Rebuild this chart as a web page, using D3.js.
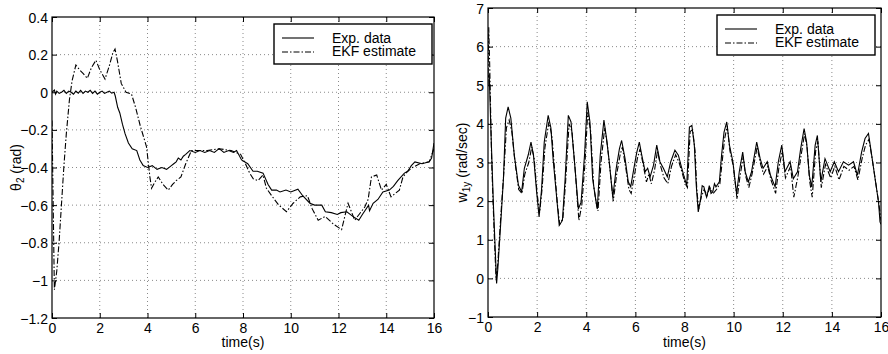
<!DOCTYPE html>
<html>
<head>
<meta charset="utf-8">
<script src="https://cdn.jsdelivr.net/npm/d3@7"></script>
<style>
  body { margin: 0; background: #fff; }
  svg { display: block; font-family: "Liberation Sans", Arial, Helvetica, sans-serif; }
  .tick text { font-size: 14px; fill: #000; }
  .tick line { stroke: #000; }
  .grid line { stroke: #8a8a8a; stroke-dasharray: 1,3; }
  .frame { fill: none; stroke: #000; stroke-width: 1.2; }
  .exp { fill: none; stroke: #000; stroke-width: 1.1; }
  .ekf { fill: none; stroke: #000; stroke-width: 1.1; stroke-dasharray: 6,2,1.5,2; }
  .lbl { font-size: 14px; fill: #000; }
</style>
</head>
<body>
<div id="chart"></div>
<script>
// time axis ticks (both panels)
const timeTicks = [0, 2, 4, 6, 8, 10, 12, 14, 16];

// left panel: theta_2 (rad)
const thetaTicks = [0.4, 0.2, 0, -0.2, -0.4, -0.6, -0.8, -1, -1.2];
const thetaExp = [
  [0,0.0],[0.1,0.012],[0.15,-0.01],[0.2,0.006],[0.3,-0.006],[0.4,0.0],[0.5,0.01],[0.6,-0.006],[0.7,0.006],
  [0.8,0.0],[0.9,-0.01],[1.0,0.006],[1.1,-0.005],[1.2,0.01],[1.3,-0.006],[1.4,0.006],[1.5,0.0],[1.6,0.01],
  [1.7,-0.006],[1.8,0.006],[1.9,-0.01],[2.0,0.0],[2.1,0.006],[2.2,-0.006],[2.3,0.0],[2.4,0.006],[2.5,-0.005],
  [2.6,0.0],[2.65,-0.02],[2.75,-0.08],[2.84,-0.11],[2.95,-0.17],[3.06,-0.22],[3.2,-0.27],[3.36,-0.30],
  [3.55,-0.31],[3.68,-0.36],[3.82,-0.39],[4.0,-0.40],[4.2,-0.39],[4.4,-0.41],[4.6,-0.40],[4.8,-0.41],
  [5.0,-0.39],[5.1,-0.38],[5.2,-0.37],[5.29,-0.35],[5.4,-0.36],[5.5,-0.34],[5.6,-0.33],[5.77,-0.31],
  [6.0,-0.32],[6.2,-0.31],[6.4,-0.32],[6.6,-0.31],[6.8,-0.32],[7.0,-0.30],[7.2,-0.32],[7.4,-0.31],
  [7.6,-0.32],[7.73,-0.31],[7.94,-0.36],[8.2,-0.38],[8.42,-0.42],[8.6,-0.42],[8.84,-0.43],[9.05,-0.49],
  [9.2,-0.52],[9.4,-0.52],[9.55,-0.53],[9.8,-0.52],[10.0,-0.53],[10.3,-0.515],[10.5,-0.55],[10.8,-0.59],
  [11.0,-0.60],[11.3,-0.60],[11.45,-0.635],[11.7,-0.64],[11.95,-0.65],[12.1,-0.64],[12.35,-0.635],
  [12.6,-0.66],[12.85,-0.68],[13.0,-0.65],[13.26,-0.60],[13.3,-0.63],[13.45,-0.59],[13.65,-0.57],
  [13.86,-0.53],[14.13,-0.52],[14.3,-0.50],[14.48,-0.47],[14.76,-0.43],[14.9,-0.42],[15.05,-0.39],
  [15.2,-0.37],[15.5,-0.38],[15.8,-0.37],[15.9,-0.35],[16.0,-0.27]
];
const thetaEkf = [
  [0,-0.15],[0.05,-0.6],[0.1,-1.05],[0.2,-0.95],[0.3,-0.79],[0.4,-0.59],[0.5,-0.39],[0.6,-0.22],
  [0.73,-0.04],[0.84,0.06],[1.0,0.145],[1.15,0.12],[1.3,0.10],[1.48,0.074],[1.65,0.13],[1.84,0.17],
  [2.0,0.12],[2.22,0.07],[2.4,0.14],[2.55,0.21],[2.64,0.23],[2.75,0.16],[2.9,0.047],[3.1,0.0],
  [3.33,-0.01],[3.5,-0.08],[3.7,-0.18],[3.96,-0.29],[4.1,-0.45],[4.17,-0.51],[4.3,-0.48],[4.45,-0.45],
  [4.65,-0.49],[4.87,-0.52],[5.05,-0.49],[5.2,-0.47],[5.4,-0.45],[5.6,-0.38],[5.84,-0.31],[6.0,-0.31],
  [6.5,-0.31],[7.0,-0.30],[7.5,-0.31],[7.9,-0.33],[8.1,-0.38],[8.28,-0.43],[8.43,-0.46],[8.63,-0.47],
  [8.84,-0.44],[8.98,-0.51],[9.2,-0.55],[9.5,-0.60],[9.82,-0.635],[10.1,-0.59],[10.4,-0.556],
  [10.7,-0.55],[10.9,-0.62],[11.15,-0.68],[11.44,-0.66],[11.78,-0.70],[12.13,-0.73],[12.4,-0.59],
  [12.68,-0.68],[13.1,-0.61],[13.24,-0.57],[13.38,-0.45],[13.6,-0.44],[13.8,-0.52],[14.0,-0.49],
  [14.2,-0.556],[14.55,-0.52],[14.7,-0.45],[14.9,-0.42],[15.1,-0.40],[15.4,-0.38],[15.8,-0.37],[16,-0.3]
];

// right panel: w_1y (rad/sec)
const wTicks = [7, 6, 5, 4, 3, 2, 1, 0, -1];
const wExp = [
  [0,5.2],[0.05,5.3],[0.12,3.8],[0.22,1.9],[0.35,-0.13],[0.4,0.25],[0.53,1.55],[0.63,2.6],[0.72,4.15],
  [0.82,4.44],[0.93,4.15],[1.07,3.19],[1.24,2.41],[1.37,2.24],[1.48,2.85],[1.64,3.2],[1.75,3.53],
  [1.85,3.2],[1.98,2.24],[2.08,1.59],[2.18,2.3],[2.29,3.53],[2.45,4.22],[2.56,3.9],[2.65,3.1],[2.8,2.06],
  [2.9,1.37],[3.03,1.5],[3.14,2.57],[3.27,4.22],[3.38,4.05],[3.51,3.1],[3.68,1.8],[3.79,1.97],[3.93,3.19],
  [4.04,4.57],[4.15,4.05],[4.26,2.58],[4.39,2.02],[4.45,1.8],[4.57,3.19],[4.72,4.1],[4.83,3.6],[4.94,3.0],
  [5.08,2.1],[5.22,2.85],[5.35,3.35],[5.44,3.57],[5.58,3.1],[5.71,2.5],[5.81,2.37],[5.94,2.85],[6.05,3.24],
  [6.16,3.53],[6.26,3.19],[6.4,2.76],[6.5,2.85],[6.6,2.63],[6.74,2.93],[6.87,3.45],[7.0,3.02],[7.14,2.85],
  [7.3,2.63],[7.44,3.02],[7.61,3.32],[7.75,3.19],[7.89,2.85],[8.0,2.6],[8.09,2.4],[8.2,3.92],[8.3,3.96],
  [8.4,3.45],[8.48,2.4],[8.56,1.72],[8.66,2.07],[8.72,2.4],[8.79,2.37],[8.85,2.2],[8.9,2.1],[9.01,2.4],
  [9.08,2.2],[9.15,2.24],[9.22,2.45],[9.28,2.37],[9.42,2.5],[9.51,3.19],[9.61,3.79],[9.72,4.05],[9.83,3.45],
  [9.97,3.02],[10.12,2.19],[10.23,2.76],[10.37,3.27],[10.47,2.76],[10.6,2.5],[10.73,2.76],[10.94,3.53],
  [11.08,3.1],[11.2,2.85],[11.37,3.02],[11.5,2.67],[11.69,2.37],[11.82,3.02],[11.96,3.45],[12.09,2.76],
  [12.3,3.02],[12.43,2.58],[12.6,2.76],[12.73,3.36],[12.87,3.88],[12.97,3.53],[13.08,2.67],[13.18,2.37],
  [13.32,3.45],[13.41,3.7],[13.55,2.5],[13.72,3.1],[13.93,2.76],[14.1,3.02],[14.27,2.76],[14.47,3.02],
  [14.68,2.93],[14.88,3.02],[15.04,2.67],[15.21,3.27],[15.35,3.62],[15.49,3.75],[15.62,3.19],[15.76,2.58],
  [15.9,1.97],[15.96,1.46],[16,1.4]
];
const wEkf = [
  [0,5.0],[0.03,6.5],[0.07,5.5],[0.15,3.0],[0.25,1.2],[0.33,-0.05],[0.4,0.4],[0.53,1.7],[0.65,2.8],
  [0.75,3.9],[0.86,4.1],[0.97,3.8],[1.1,3.0],[1.25,2.3],[1.38,2.2],[1.5,2.7],[1.66,3.0],[1.78,3.4],
  [1.88,3.1],[2.0,2.2],[2.1,1.7],[2.2,2.3],[2.32,3.4],[2.48,4.05],[2.6,3.7],[2.7,2.9],[2.83,1.9],
  [2.92,1.4],[3.05,1.55],[3.16,2.5],[3.3,4.0],[3.42,3.8],[3.55,2.8],[3.7,1.5],[3.82,1.9],[3.95,3.0],
  [4.06,4.3],[4.18,3.8],[4.3,2.4],[4.42,1.9],[4.48,1.75],[4.6,3.0],[4.75,3.9],[4.86,3.45],[4.97,2.8],
  [5.1,2.0],[5.24,2.7],[5.38,3.2],[5.47,3.4],[5.6,2.9],[5.74,2.3],[5.83,2.2],[5.97,2.7],[6.08,3.1],
  [6.19,3.35],[6.3,3.0],[6.45,2.5],[6.55,2.7],[6.65,2.45],[6.78,2.8],[6.9,3.3],[7.03,2.9],[7.17,2.6],
  [7.32,2.45],[7.47,2.9],[7.64,3.2],[7.78,3.0],[7.92,2.7],[8.03,2.45],[8.12,2.35],[8.23,3.8],[8.33,3.85],
  [8.43,3.3],[8.5,2.3],[8.58,1.8],[8.68,2.1],[8.8,2.3],[8.92,2.15],[9.03,2.35],[9.17,2.2],[9.3,2.3],
  [9.44,2.45],[9.53,3.0],[9.63,3.6],[9.74,3.95],[9.85,3.3],[9.99,2.9],[10.14,2.05],[10.25,2.6],
  [10.39,3.15],[10.49,2.65],[10.62,2.35],[10.75,2.7],[10.96,3.4],[11.1,2.95],[11.22,2.7],[11.39,2.9],
  [11.52,2.55],[11.71,2.2],[11.84,2.85],[11.98,3.3],[12.11,2.6],[12.32,2.9],[12.45,2.1],[12.62,2.65],
  [12.75,3.2],[12.89,3.75],[12.99,3.4],[13.1,2.5],[13.2,2.1],[13.34,3.3],[13.43,3.55],[13.57,2.35],
  [13.74,2.95],[13.95,2.6],[14.12,2.9],[14.29,2.55],[14.49,2.9],[14.7,2.8],[14.9,2.9],[15.06,2.55],
  [15.23,3.1],[15.37,3.45],[15.51,3.6],[15.64,3.1],[15.78,2.5],[15.92,1.9],[16,1.5]
];

const legendLabels = ["Exp. data", "EKF estimate"];

let svg = d3.select("#chart")
  .append("svg")
  .attr("width", 888)
  .attr("height", 354);

function panel(opt) {
  let x = d3.scaleLinear().domain([0, 16]).range([opt.left, opt.right]);
  let y = d3.scaleLinear().domain(opt.yDomain).range([opt.bottom, opt.top]);
  let w = opt.right - opt.left, h = opt.bottom - opt.top;
  let fmt = d3.format("~g");

  let g = svg.append("g");

  // dotted grid
  g.append("g").attr("class", "grid")
    .selectAll("line").data(timeTicks.slice(1, -1)).enter().append("line")
    .attr("x1", d => x(d)).attr("x2", d => x(d))
    .attr("y1", opt.top).attr("y2", opt.bottom);
  g.append("g").attr("class", "grid")
    .selectAll("line").data(opt.yTicks.slice(1, -1)).enter().append("line")
    .attr("y1", d => y(d)).attr("y2", d => y(d))
    .attr("x1", opt.left).attr("x2", opt.right);

  // axes with inward ticks (matlab box style)
  let bottom = g.append("g")
    .attr("transform", "translate(0," + opt.bottom + ")")
    .call(d3.axisBottom(x).tickValues(timeTicks).tickSizeInner(-5).tickSizeOuter(0).tickPadding(5).tickFormat(fmt));
  let top = g.append("g")
    .attr("transform", "translate(0," + opt.top + ")")
    .call(d3.axisTop(x).tickValues(timeTicks).tickSizeInner(-5).tickSizeOuter(0).tickFormat(""));
  let left = g.append("g")
    .attr("transform", "translate(" + opt.left + ",0)")
    .call(d3.axisLeft(y).tickValues(opt.yTicks).tickSizeInner(-5).tickSizeOuter(0).tickPadding(4).tickFormat(fmt));
  let right = g.append("g")
    .attr("transform", "translate(" + opt.right + ",0)")
    .call(d3.axisRight(y).tickValues(opt.yTicks).tickSizeInner(-5).tickSizeOuter(0).tickFormat(""));
  [bottom, top, left, right].forEach(a => {
    a.attr("font-family", null).attr("font-size", null);
    a.select(".domain").remove();
  });
  left.selectAll(".tick text").attr("dy", "0.36em");

  g.append("rect").attr("class", "frame")
    .attr("x", opt.left).attr("y", opt.top)
    .attr("width", w).attr("height", h);

  // curves
  let clipId = "clip" + opt.id;
  svg.append("clipPath").attr("id", clipId)
    .append("rect").attr("x", opt.left).attr("y", opt.top).attr("width", w).attr("height", h);

  let line = d3.line().x(d => x(d[0])).y(d => y(d[1]));
  g.append("path").datum(opt.exp).attr("class", "exp").attr("clip-path", "url(#" + clipId + ")").attr("d", line);
  g.append("path").datum(opt.ekf).attr("class", "ekf").attr("clip-path", "url(#" + clipId + ")").attr("d", line);

  // axis labels
  g.append("text").attr("class", "lbl")
    .attr("x", (opt.left + opt.right) / 2).attr("y", 347)
    .attr("text-anchor", "middle")
    .text("time(s)");

  let yl = g.append("text").attr("class", "lbl")
    .attr("transform", "translate(" + opt.yLabelX + "," + (opt.top + opt.bottom) / 2 + ") rotate(-90)")
    .attr("text-anchor", "middle");
  yl.append("tspan").text(opt.sym);
  yl.append("tspan").attr("dy", 3).attr("font-size", "10px").text(opt.sub);
  yl.append("tspan").attr("dy", -3).text(" " + opt.unit);

  // legend
  let lg = g.append("g").attr("transform", "translate(" + opt.legX + "," + opt.legY + ")");
  lg.append("rect").attr("width", 158).attr("height", 40)
    .attr("fill", "#fff").attr("stroke", "#000").attr("stroke-width", 1.4);
  lg.selectAll("line.key").data(legendLabels).enter().append("line")
    .attr("class", (d, i) => i === 0 ? "exp" : "ekf")
    .attr("x1", 8).attr("x2", 40)
    .attr("y1", (d, i) => 14 + i * 14).attr("y2", (d, i) => 14 + i * 14);
  lg.selectAll("text").data(legendLabels).enter().append("text")
    .attr("class", "lbl").attr("font-size", "14px")
    .attr("x", 58).attr("y", (d, i) => 19 + i * 13)
    .text(d => d);
}

panel({
  id: 1, left: 52, right: 434, top: 17, bottom: 318,
  yDomain: [-1.2, 0.4], yTicks: thetaTicks,
  exp: thetaExp, ekf: thetaEkf,
  sym: "\u03b8", sub: "2", unit: "(rad)", yLabelX: 21,
  legX: 274, legY: 24
});

panel({
  id: 2, left: 488, right: 881, top: 8, bottom: 317,
  yDomain: [-1, 7], yTicks: wTicks,
  exp: wExp, ekf: wEkf,
  sym: "w", sub: "1y", unit: "(rad/sec)", yLabelX: 467,
  legX: 717, legY: 15
});
</script>
</body>
</html>
